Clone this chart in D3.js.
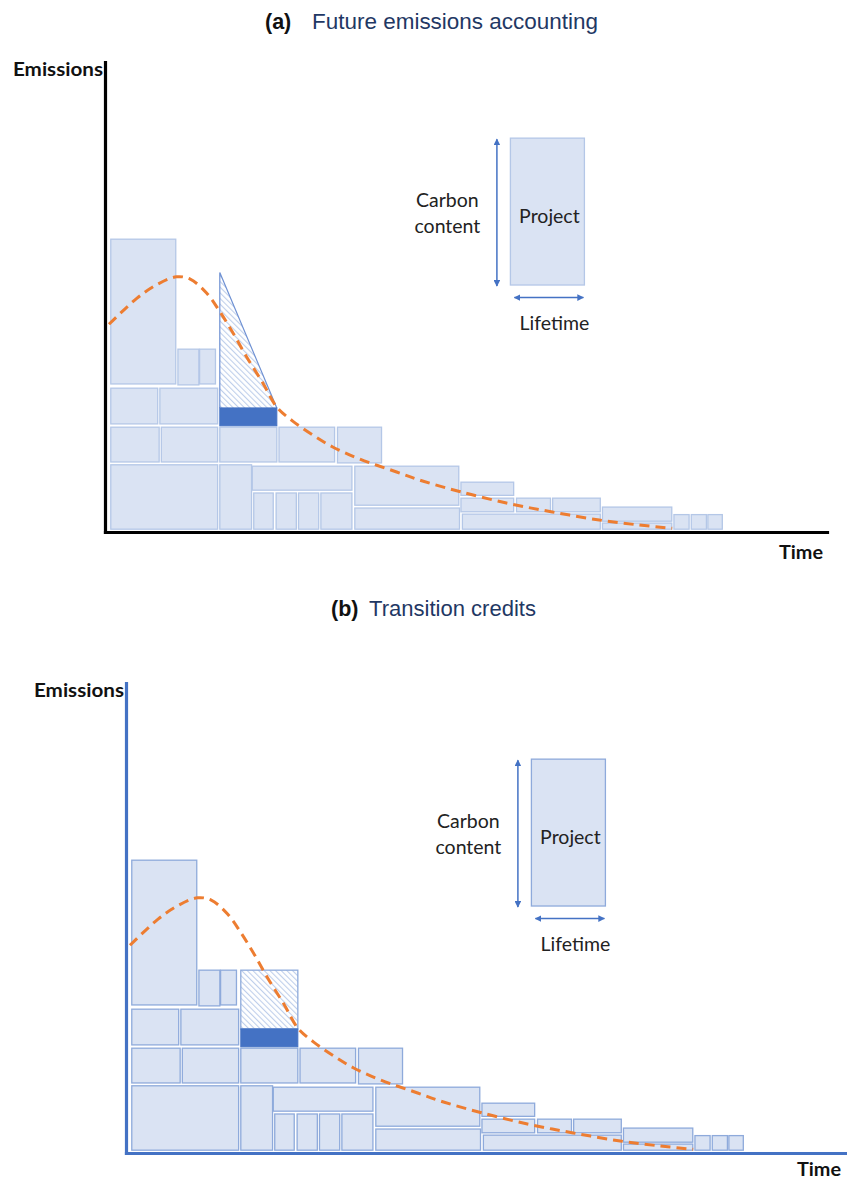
<!DOCTYPE html>
<html><head><meta charset="utf-8">
<script src="https://cdn.jsdelivr.net/npm/d3@7"></script>
<style>
html,body{margin:0;padding:0;background:#fff;}
svg{display:block;}
</style>
</head><body>
<script>
// ---------- data (time units, emission units) ----------
const panelTitles = [["(a)", "Future emissions accounting"], ["(b)", "Transition credits"]];
const axisLabels = ["Emissions", "Time"];
const legendLabels = ["Carbon", "content", "Project", "Lifetime"];
// existing projects: [start, end, emissions bottom, emissions top]
const blocks = [
  [0.8, 9.8, 31.5, 62.3],
  [10.1, 13.0, 31.3, 38.9],
  [13.1, 15.3, 31.5, 38.9],
  [0.8, 7.3, 23.0, 30.6],
  [7.6, 15.6, 23.0, 30.6],
  [0.8, 7.5, 14.9, 22.3],
  [7.8, 15.6, 14.9, 22.3],
  [15.9, 23.8, 14.9, 22.3],
  [24.1, 31.8, 14.9, 22.3],
  [32.2, 38.3, 14.7, 22.3],
  [0.8, 15.6, 0.6, 14.3],
  [15.9, 20.3, 0.6, 14.3],
  [20.4, 34.2, 8.9, 14.0],
  [20.6, 23.3, 0.6, 8.3],
  [23.7, 26.5, 0.6, 8.3],
  [26.8, 29.6, 0.6, 8.3],
  [29.9, 34.2, 0.6, 8.3],
  [34.6, 49.0, 5.7, 14.0],
  [34.6, 49.1, 0.6, 5.1],
  [49.3, 56.6, 7.8, 10.6],
  [49.3, 56.6, 4.3, 7.2],
  [57.0, 61.7, 4.3, 7.2],
  [62.0, 68.6, 4.3, 7.2],
  [49.5, 68.6, 0.6, 3.8],
  [68.9, 78.5, 2.3, 5.3],
  [68.9, 78.5, 0.6, 1.9],
  [78.8, 80.9, 0.6, 3.7],
  [81.2, 83.3, 0.6, 3.7],
  [83.5, 85.5, 0.6, 3.7]
];
// new project
const newProjectT = [15.9, 23.8];
const newProjectSolid = [22.6, 26.4];
const newProjectTopA = 55.2;   // triangle apex (a)
const newProjectTopB = 38.9;   // rectangle top (b)
// emissions pathway (dashed)
const curveT = [0.55, 4.4, 7.15, 9.9, 11.8, 14.1, 15.9, 17.75, 19.6, 21.9, 23.79, 26.0, 28.77, 31.54, 35.27, 40.39, 43.98, 49.1, 55.6, 61.96, 68.46, 73.99, 78.56];
const curveE = [44.2, 49.7, 52.6, 54.3, 53.8, 50.8, 46.9, 42.3, 37.3, 31.6, 26.6, 23.6, 20.64, 18.09, 15.53, 12.77, 10.85, 8.62, 6.17, 4.26, 2.55, 1.49, 0.79];
// legend project box: [start, end, bottom, top]
const legendBox = [56.15, 66.4, 52.55, 83.8];

// ---------- drawing ----------
const W = 847, H = 1182;
const svg = d3.select("body").append("svg").attr("width", W).attr("height", H);
const defs = svg.append("defs");
const pat = defs.append("pattern").attr("id", "hatch").attr("patternUnits", "userSpaceOnUse")
  .attr("width", 4).attr("height", 4).attr("patternTransform", "rotate(-45)");
pat.append("rect").attr("width", 4).attr("height", 4).attr("fill", "#fff");
pat.append("line").attr("x1", 0.5).attr("y1", 0).attr("x2", 0.5).attr("y2", 4)
  .attr("stroke", "#bfcfeb").attr("stroke-width", 1.2);
defs.append("marker").attr("id", "arr").attr("viewBox", "0 0 10 10").attr("refX", 9).attr("refY", 5)
  .attr("markerWidth", 4.5).attr("markerHeight", 4.5).attr("orient", "auto-start-reverse")
  .append("path").attr("d", "M0,0L10,5L0,10z").attr("fill", "#4472c4");

const panels = [
  {ox: 105, oy: 532, axisColor: "#000", blockStroke: "#b4c7e7", tri: true,
   titleY: 29, titleX: 265, titleGap: 47, titleLen: 286, timeDx: 48, timeDy: 27},
  {ox: 126, oy: 1153, axisColor: "#4472c4", blockStroke: "#8eaadb", tri: false,
   titleY: 616, titleX: 331, titleGap: 38, titleLen: 167, timeDx: 51, timeDy: 23}
];

panels.forEach((p, i) => {
  const x = d3.scaleLinear().domain([0, 100]).range([p.ox, p.ox + 722]);
  const y = d3.scaleLinear().domain([0, 100]).range([p.oy, p.oy - 470]);
  const g = svg.append("g");

  // title
  g.append("text").attr("x", p.titleX).attr("y", p.titleY).attr("font-family", "Liberation Sans, Arial, sans-serif")
    .attr("font-size", 21.5).attr("font-weight", "bold").attr("fill", "#111").text(panelTitles[i][0]);
  g.append("text").attr("x", p.titleX + p.titleGap).attr("y", p.titleY).attr("font-family", "Liberation Sans, Arial, sans-serif")
    .attr("font-size", 22).attr("fill", "#1f3864")
    .attr("textLength", p.titleLen).attr("lengthAdjust", "spacingAndGlyphs").text(panelTitles[i][1]);

  // blocks
  g.selectAll("rect.blk").data(blocks).join("rect").attr("class", "blk")
    .attr("x", d => x(d[0])).attr("width", d => x(d[1]) - x(d[0]))
    .attr("y", d => y(d[3])).attr("height", d => y(d[2]) - y(d[3]))
    .attr("fill", "#dae3f3").attr("stroke", p.blockStroke).attr("stroke-width", 1.3);

  // new project
  if (p.tri) {
    g.append("path")
      .attr("d", d3.line()([[x(newProjectT[0]), y(newProjectTopA)], [x(newProjectT[0]), y(newProjectSolid[1])],
        [x(newProjectT[1]), y(newProjectSolid[1])]]) + "Z")
      .attr("fill", "url(#hatch)").attr("stroke", "none");
    g.append("path")
      .attr("d", d3.line()([[x(newProjectT[0]), y(newProjectSolid[1])], [x(newProjectT[0]), y(newProjectTopA)],
        [x(newProjectT[1]), y(newProjectSolid[1])]]))
      .attr("fill", "none").attr("stroke", "#6f91d3").attr("stroke-width", 1.2);
  } else {
    g.append("rect").attr("x", x(newProjectT[0])).attr("width", x(newProjectT[1]) - x(newProjectT[0]))
      .attr("y", y(newProjectTopB)).attr("height", y(newProjectSolid[1]) - y(newProjectTopB))
      .attr("fill", "url(#hatch)").attr("stroke", p.blockStroke).attr("stroke-width", 1.3);
  }
  g.append("rect").attr("x", x(newProjectT[0])).attr("width", x(newProjectT[1]) - x(newProjectT[0]))
    .attr("y", y(newProjectSolid[1])).attr("height", y(newProjectSolid[0]) - y(newProjectSolid[1]))
    .attr("fill", "#4472c4").attr("stroke", "#4472c4").attr("stroke-width", 1);

  // dashed pathway
  const pts = curveT.map((tt, k) => [tt, curveE[k]]);
  g.append("path").datum(pts)
    .attr("d", d3.line().x(d => x(d[0])).y(d => y(d[1])).curve(d3.curveCatmullRom.alpha(0.5)))
    .attr("fill", "none").attr("stroke", "#ed7d31").attr("stroke-width", 3)
    .attr("stroke-dasharray", "10,6");

  // axes
  const ax = g.append("g").attr("transform", `translate(0,${p.oy})`)
    .call(d3.axisBottom(x).ticks(0).tickSizeOuter(0));
  const ay = g.append("g").attr("transform", `translate(${p.ox},0)`)
    .call(d3.axisLeft(y).ticks(0).tickSizeOuter(0));
  [ax, ay].forEach(a => a.select(".domain").attr("stroke", p.axisColor).attr("stroke-width", 3.2)
    .attr("stroke-linecap", "square"));
  g.append("text").attr("x", p.ox - 92).attr("y", y(100) + 14)
    .attr("font-family", "Lato, sans-serif").attr("font-weight", "bold").attr("font-size", 18.5)
    .attr("textLength", 90).attr("lengthAdjust", "spacingAndGlyphs")
    .attr("fill", "#111").text(axisLabels[0]);
  g.append("text").attr("x", x(100) - p.timeDx).attr("y", p.oy + p.timeDy)
    .attr("font-family", "Lato, sans-serif").attr("font-weight", "bold").attr("font-size", 18)
    .attr("textLength", 44).attr("lengthAdjust", "spacingAndGlyphs")
    .attr("fill", "#111").text(axisLabels[1]);

  // legend
  const lx0 = x(legendBox[0]), lx1 = x(legendBox[1]), ly0 = y(legendBox[3]), ly1 = y(legendBox[2]);
  g.append("rect").attr("x", lx0).attr("y", ly0).attr("width", lx1 - lx0).attr("height", ly1 - ly0)
    .attr("fill", "#dae3f3").attr("stroke", p.blockStroke).attr("stroke-width", 1.3);
  g.append("line").attr("x1", lx0 - 13.5).attr("x2", lx0 - 13.5).attr("y1", ly0 + 1).attr("y2", ly1 + 1)
    .attr("stroke", "#4472c4").attr("stroke-width", 1.5)
    .attr("marker-start", "url(#arr)").attr("marker-end", "url(#arr)");
  g.append("line").attr("x1", lx0 + 4).attr("x2", lx1 - 1).attr("y1", ly1 + 12.5).attr("y2", ly1 + 12.5)
    .attr("stroke", "#4472c4").attr("stroke-width", 1.5)
    .attr("marker-start", "url(#arr)").attr("marker-end", "url(#arr)");
  const lf = {"font-family": "Lato, sans-serif", "font-size": 19.5, "fill": "#222"};
  const txt = (tx, ty, s) => {
    const e = g.append("text").attr("x", tx).attr("y", ty).attr("text-anchor", "middle").text(s);
    Object.entries(lf).forEach(([k, v]) => e.attr(k, v));
  };
  txt(lx0 - 63, (ly0 + ly1) / 2 - 5, legendLabels[0]);
  txt(lx0 - 63, (ly0 + ly1) / 2 + 21, legendLabels[1]);
  txt((lx0 + lx1) / 2 + 2, (ly0 + ly1) / 2 + 11, legendLabels[2]);
  txt((lx0 + lx1) / 2 + 7, ly1 + 45, legendLabels[3]);
});
</script>
</body></html>
